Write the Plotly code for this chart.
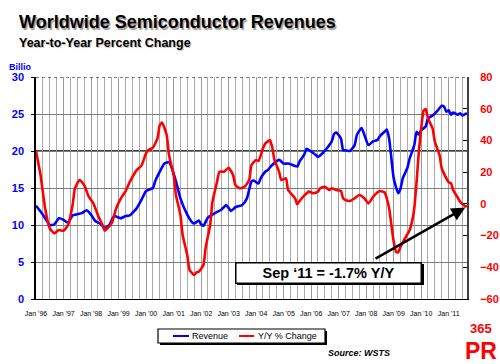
import plotly.graph_objects as go

# ---------------- data ----------------
rev_dates = [
    "1996-01", "1996-04", "1996-07", "1996-09", "1996-11",
    "1997-01", "1997-03", "1997-05", "1997-09", "1997-11",
    "1998-01", "1998-03", "1998-05", "1998-07", "1998-09", "1998-11",
    "1999-02", "1999-04", "1999-06", "1999-09", "1999-11",
    "2000-01", "2000-04", "2000-05", "2000-07", "2000-09", "2000-11", "2000-12",
    "2001-02", "2001-04", "2001-07", "2001-09", "2001-10", "2001-12",
    "2002-01", "2002-02", "2002-04", "2002-07", "2002-10", "2002-12",
    "2003-02", "2003-04", "2003-07", "2003-09", "2003-11", "2003-12",
    "2004-02", "2004-03", "2004-05", "2004-06", "2004-08", "2004-11",
    "2005-01", "2005-03", "2005-05", "2005-07", "2005-08", "2005-10", "2005-11",
    "2006-02", "2006-03", "2006-04", "2006-06", "2006-08", "2006-10", "2006-11", "2006-12",
    "2007-02", "2007-03", "2007-04", "2007-06", "2007-08", "2007-09", "2007-11", "2007-12",
    "2008-02", "2008-04", "2008-06", "2008-07", "2008-09", "2008-10", "2008-11", "2008-12",
    "2009-01", "2009-03", "2009-04", "2009-05", "2009-07", "2009-08", "2009-10", "2009-11", "2009-12",
    "2010-01", "2010-03", "2010-04", "2010-06", "2010-08", "2010-10", "2010-11", "2010-12",
    "2011-01", "2011-02", "2011-03", "2011-05", "2011-06", "2011-07", "2011-08", "2011-09",
]
revenue = [
    12.6, 11.4, 10.0, 10.1, 10.9,
    10.7, 10.3, 11.3, 11.6, 12.0,
    11.4, 10.5, 10.2, 9.6, 10.0, 11.2,
    10.9, 11.2, 11.3, 12.3, 13.4,
    14.6, 15.0, 15.9, 17.2, 18.3, 18.5, 17.9,
    15.9, 13.6, 11.4, 10.4, 10.2, 10.6,
    10.1, 9.9, 11.0, 11.6, 12.1, 12.7,
    11.9, 12.4, 12.7, 13.6, 15.9, 16.0,
    15.6, 16.3, 17.2, 17.4, 18.1, 18.8,
    18.3, 18.3, 18.1, 17.9, 18.6, 19.5, 20.3,
    19.7, 19.5, 19.2, 19.7, 20.4, 21.3, 22.3, 22.5,
    21.7, 20.1, 20.1, 20.0, 20.8, 22.2, 23.1, 22.4,
    20.8, 21.3, 21.5, 22.0, 22.6, 22.9, 21.7, 19.0,
    16.3, 14.3, 14.9, 16.3, 17.7, 19.0, 20.8, 22.6, 22.2,
    22.8, 23.3, 24.4, 24.8, 25.4, 26.1, 26.0, 25.3,
    25.5, 24.9, 25.2, 24.9, 25.1, 24.8, 24.95, 25.1,
]

yoy_dates = [
    "1996-01", "1996-03", "1996-05", "1996-07", "1996-09", "1996-11",
    "1997-01", "1997-03", "1997-05", "1997-06", "1997-08", "1997-10", "1997-12",
    "1998-02", "1998-04", "1998-06", "1998-07", "1998-10", "1998-12",
    "1999-02", "1999-04", "1999-06", "1999-09", "1999-11",
    "2000-01", "2000-02", "2000-04", "2000-06", "2000-07", "2000-08", "2000-10", "2000-11",
    "2001-01", "2001-02", "2001-04", "2001-05", "2001-07", "2001-08", "2001-10", "2001-11", "2001-12",
    "2002-02", "2002-03", "2002-05", "2002-06", "2002-08", "2002-09", "2002-11",
    "2003-01", "2003-03", "2003-04", "2003-06", "2003-08", "2003-10", "2003-11",
    "2004-01", "2004-02", "2004-04", "2004-05", "2004-07", "2004-08", "2004-09", "2004-11", "2004-12",
    "2005-02", "2005-03", "2005-06", "2005-07", "2005-08", "2005-10", "2005-12",
    "2006-02", "2006-04", "2006-05", "2006-07", "2006-09", "2006-10", "2006-12",
    "2007-02", "2007-03", "2007-04", "2007-06", "2007-08", "2007-10", "2007-12",
    "2008-02", "2008-04", "2008-06", "2008-07", "2008-09", "2008-10", "2008-11", "2008-12",
    "2009-01", "2009-02", "2009-03", "2009-04", "2009-06", "2009-08", "2009-09", "2009-10", "2009-11", "2009-12",
    "2010-01", "2010-02", "2010-03", "2010-04", "2010-06", "2010-07", "2010-09", "2010-10", "2010-12",
    "2011-01", "2011-02", "2011-03", "2011-05", "2011-06", "2011-08", "2011-09",
]
yoy_change = [
    33.1, 18.2, -2.8, -15.4, -18.6, -16.5,
    -17.0, -13.3, -0.7, 9.8, 15.0, 11.9, 4.5,
    0.3, -7.0, -13.3, -16.9, -12.3, -2.8,
    3.5, 7.7, 14.0, 21.4, 24.1,
    31.9, 34.0, 35.5, 41.3, 49.7, 51.2, 43.4, 30.8,
    18.2, 5.6, -7.0, -19.6, -32.3, -41.7, -44.9, -43.2, -42.8,
    -38.6, -28.0, -13.3, 1.4, 14.0, 20.3, 20.3,
    22.8, 18.2, 11.9, 9.8, 10.8, 15.0, 24.5,
    27.7, 27.0, 35.0, 38.0, 40.3, 36.0, 27.7, 20.3, 15.0,
    16.1, 8.7, 3.5, -0.3, 1.8, 5.2, 7.7,
    6.7, 7.7, 9.8, 10.8, 8.7, 9.8, 8.7,
    8.1, 3.5, 2.4, 1.8, 3.5, 5.6, 3.9,
    0.3, 4.3, 7.3, 8.1, 7.3, 3.5, -2.8, -13.3,
    -23.9, -30.2, -30.6, -27.0, -21.7, -16.5, -11.2, -2.8, 14.0, 33.1,
    47.6, 58.6, 59.8, 54.0, 47.6, 39.2, 30.8, 22.3, 16.1,
    13.6, 13.0, 8.7, 3.9, 1.4, -1.2, -1.7,
]

tick_dates = [f"{y}-01-01" for y in range(1996, 2012)]
tick_labels = ["Jan '" + str(y)[2:] for y in range(1996, 2012)]

left_ticks = [0, 5, 10, 15, 20, 25, 30]
right_ticks = [-60, -40, -20, 0, 20, 40, 60, 80]

FONT = "Liberation Sans, Arial, sans-serif"
BLUE = "#0000ff"
RED = "#ff0000"

# plot-area geometry (pixels)
W, H = 500, 364
L, R, T, B = 36, 33, 77, 65
PW, PH = W - L - R, H - T - B


def px(x):
    return (x - L) / PW


def py(y):
    return (H - B - y) / PH


fig = go.Figure()
fig.add_trace(go.Scatter(
    x=rev_dates, y=revenue, name="Revenue", mode="lines",
    line=dict(color=BLUE, width=2.6, shape="spline", smoothing=0.5),
    yaxis="y", showlegend=False,
))
fig.add_trace(go.Scatter(
    x=yoy_dates, y=yoy_change, name="Y/Y % Change", mode="lines",
    line=dict(color=RED, width=2.6, shape="spline", smoothing=0.5),
    yaxis="y2", showlegend=False,
))

fig.update_layout(
    width=W, height=H,
    margin=dict(l=L, r=R, t=T, b=B, pad=0),
    paper_bgcolor="white", plot_bgcolor="white",
    font=dict(family=FONT, color="black"),
    xaxis=dict(
        type="date", range=["1996-01-01", "2011-09-01"],
        tickmode="array", tickvals=tick_dates, ticktext=tick_labels,
        tickangle=0, tickfont=dict(size=7, color="black"),
        ticks="", ticklabelstandoff=8,
        showgrid=True, gridcolor="#9a9a9a", gridwidth=1,
        minor=dict(dtick="M3", tick0="1996-01-01", showgrid=True,
                   gridcolor="#ababab", gridwidth=1),
        showline=True, linecolor="black", linewidth=1,
        zeroline=False, automargin=False,
    ),
    yaxis=dict(
        range=[0, 30], tickmode="array", tickvals=left_ticks,
        tickfont=dict(size=11, color=BLUE, family=FONT, weight="bold"),
        ticks="outside", ticklen=3, tickcolor="black",
        ticklabelstandoff=5,
        showgrid=True, gridcolor="#7a7a7a", gridwidth=1,
        showline=True, linecolor="black", linewidth=1.5,
        zeroline=False, automargin=False,
    ),
    yaxis2=dict(
        range=[-60, 80], tickmode="array", tickvals=right_ticks,
        overlaying="y", side="right",
        tickfont=dict(size=11, color=RED, family=FONT, weight="bold"),
        ticks="inside", ticklen=4, tickcolor="black",
        ticklabelstandoff=9,
        showgrid=False, showline=True, linecolor="#404040", linewidth=2,
        zeroline=False, automargin=False,
    ),
)

shapes = [
    # black reference line at 20 (left axis)
    dict(type="line", xref="paper", yref="y", x0=0, x1=1, y0=20, y1=20,
         line=dict(color="black", width=1.5), layer="below"),
    # dotted top border
    dict(type="line", xref="paper", yref="y", x0=0, x1=1, y0=30, y1=30,
         line=dict(color="black", width=1, dash="dot")),
    # legend shadow + box
    dict(type="rect", xref="paper", yref="paper",
         x0=px(160), x1=px(327), y0=py(345), y1=py(331),
         fillcolor="black", line=dict(width=0)),
    dict(type="rect", xref="paper", yref="paper",
         x0=px(158), x1=px(325), y0=py(343), y1=py(329),
         fillcolor="white", line=dict(color="black", width=1.2)),
    dict(type="line", xref="paper", yref="paper",
         x0=px(173), x1=px(189), y0=py(336), y1=py(336),
         line=dict(color=BLUE, width=2)),
    dict(type="line", xref="paper", yref="paper",
         x0=px(239), x1=px(254), y0=py(336), y1=py(336),
         line=dict(color=RED, width=2)),
    # annotation box shadow
    dict(type="rect", xref="paper", yref="paper",
         x0=px(237), x1=px(424), y0=py(285), y1=py(264),
         fillcolor="black", line=dict(width=0), layer="above"),
]

annotations = [
    # title (with drop shadow)
    dict(text="<b>Worldwide Semiconductor Revenues</b>", xref="paper", yref="paper",
         x=px(17), y=py(22), xanchor="left", yanchor="middle", showarrow=False,
         font=dict(size=18, color="black", family=FONT,
                   shadow="1.5px 1.5px 1px #9a9a9a")),
    dict(text="<b>Year-to-Year Percent Change</b>", xref="paper", yref="paper",
         x=px(17), y=py(43), xanchor="left", yanchor="middle", showarrow=False,
         font=dict(size=12.5, color="black", family=FONT,
                   shadow="1px 1px 1px #c0c0c0")),
    dict(text="<b>Billio</b>", xref="paper", yref="paper",
         x=px(7), y=py(67), xanchor="left", yanchor="middle", showarrow=False,
         font=dict(size=9, color=BLUE, family=FONT)),
    # arrow pointing at the latest Y/Y value
    dict(text="", xref="x", yref="y2", x=yoy_dates[-1], y=yoy_change[-1],
         ax=-93, ay=53, showarrow=True, arrowhead=2, arrowsize=1.1,
         arrowwidth=2.5, arrowcolor="black", standoff=2),
    # callout box
    dict(text="<b>Sep \u201811 = -1.7% Y/Y</b>", xref="paper", yref="paper",
         x=px(328.5), y=py(272.5), xanchor="center", yanchor="middle",
         showarrow=False, font=dict(size=14.5, color="black", family=FONT),
         bgcolor="white", bordercolor="black", borderwidth=1.5, borderpad=2,
         width=180, height=15),
    # legend texts
    dict(text="Revenue", xref="paper", yref="paper",
         x=px(190), y=py(336), xanchor="left", yanchor="middle", showarrow=False,
         font=dict(size=9, color="black", family=FONT)),
    dict(text="Y/Y % Change", xref="paper", yref="paper",
         x=px(256), y=py(336), xanchor="left", yanchor="middle", showarrow=False,
         font=dict(size=9, color="black", family=FONT)),
    # source
    dict(text="<b><i>Source: WSTS</i></b>", xref="paper", yref="paper",
         x=px(326), y=py(353), xanchor="left", yanchor="middle", showarrow=False,
         font=dict(size=9, color="black", family=FONT)),
    # logo
    dict(text="<b>365</b>", xref="paper", yref="paper",
         x=px(481), y=py(320), xanchor="center", yanchor="top", showarrow=False,
         borderpad=0, font=dict(size=13, color=RED, family=FONT)),
    dict(text="<b>PR</b>", xref="paper", yref="paper",
         x=px(481), y=py(337), xanchor="center", yanchor="top", showarrow=False,
         borderpad=0, font=dict(size=23, color=RED, family=FONT)),
]

fig.update_layout(shapes=shapes, annotations=annotations)

fig.write_html(
    "out.html",
    config={"displayModeBar": False},
    post_script="document.body.style.margin='0';document.body.style.overflow='hidden';",
)
